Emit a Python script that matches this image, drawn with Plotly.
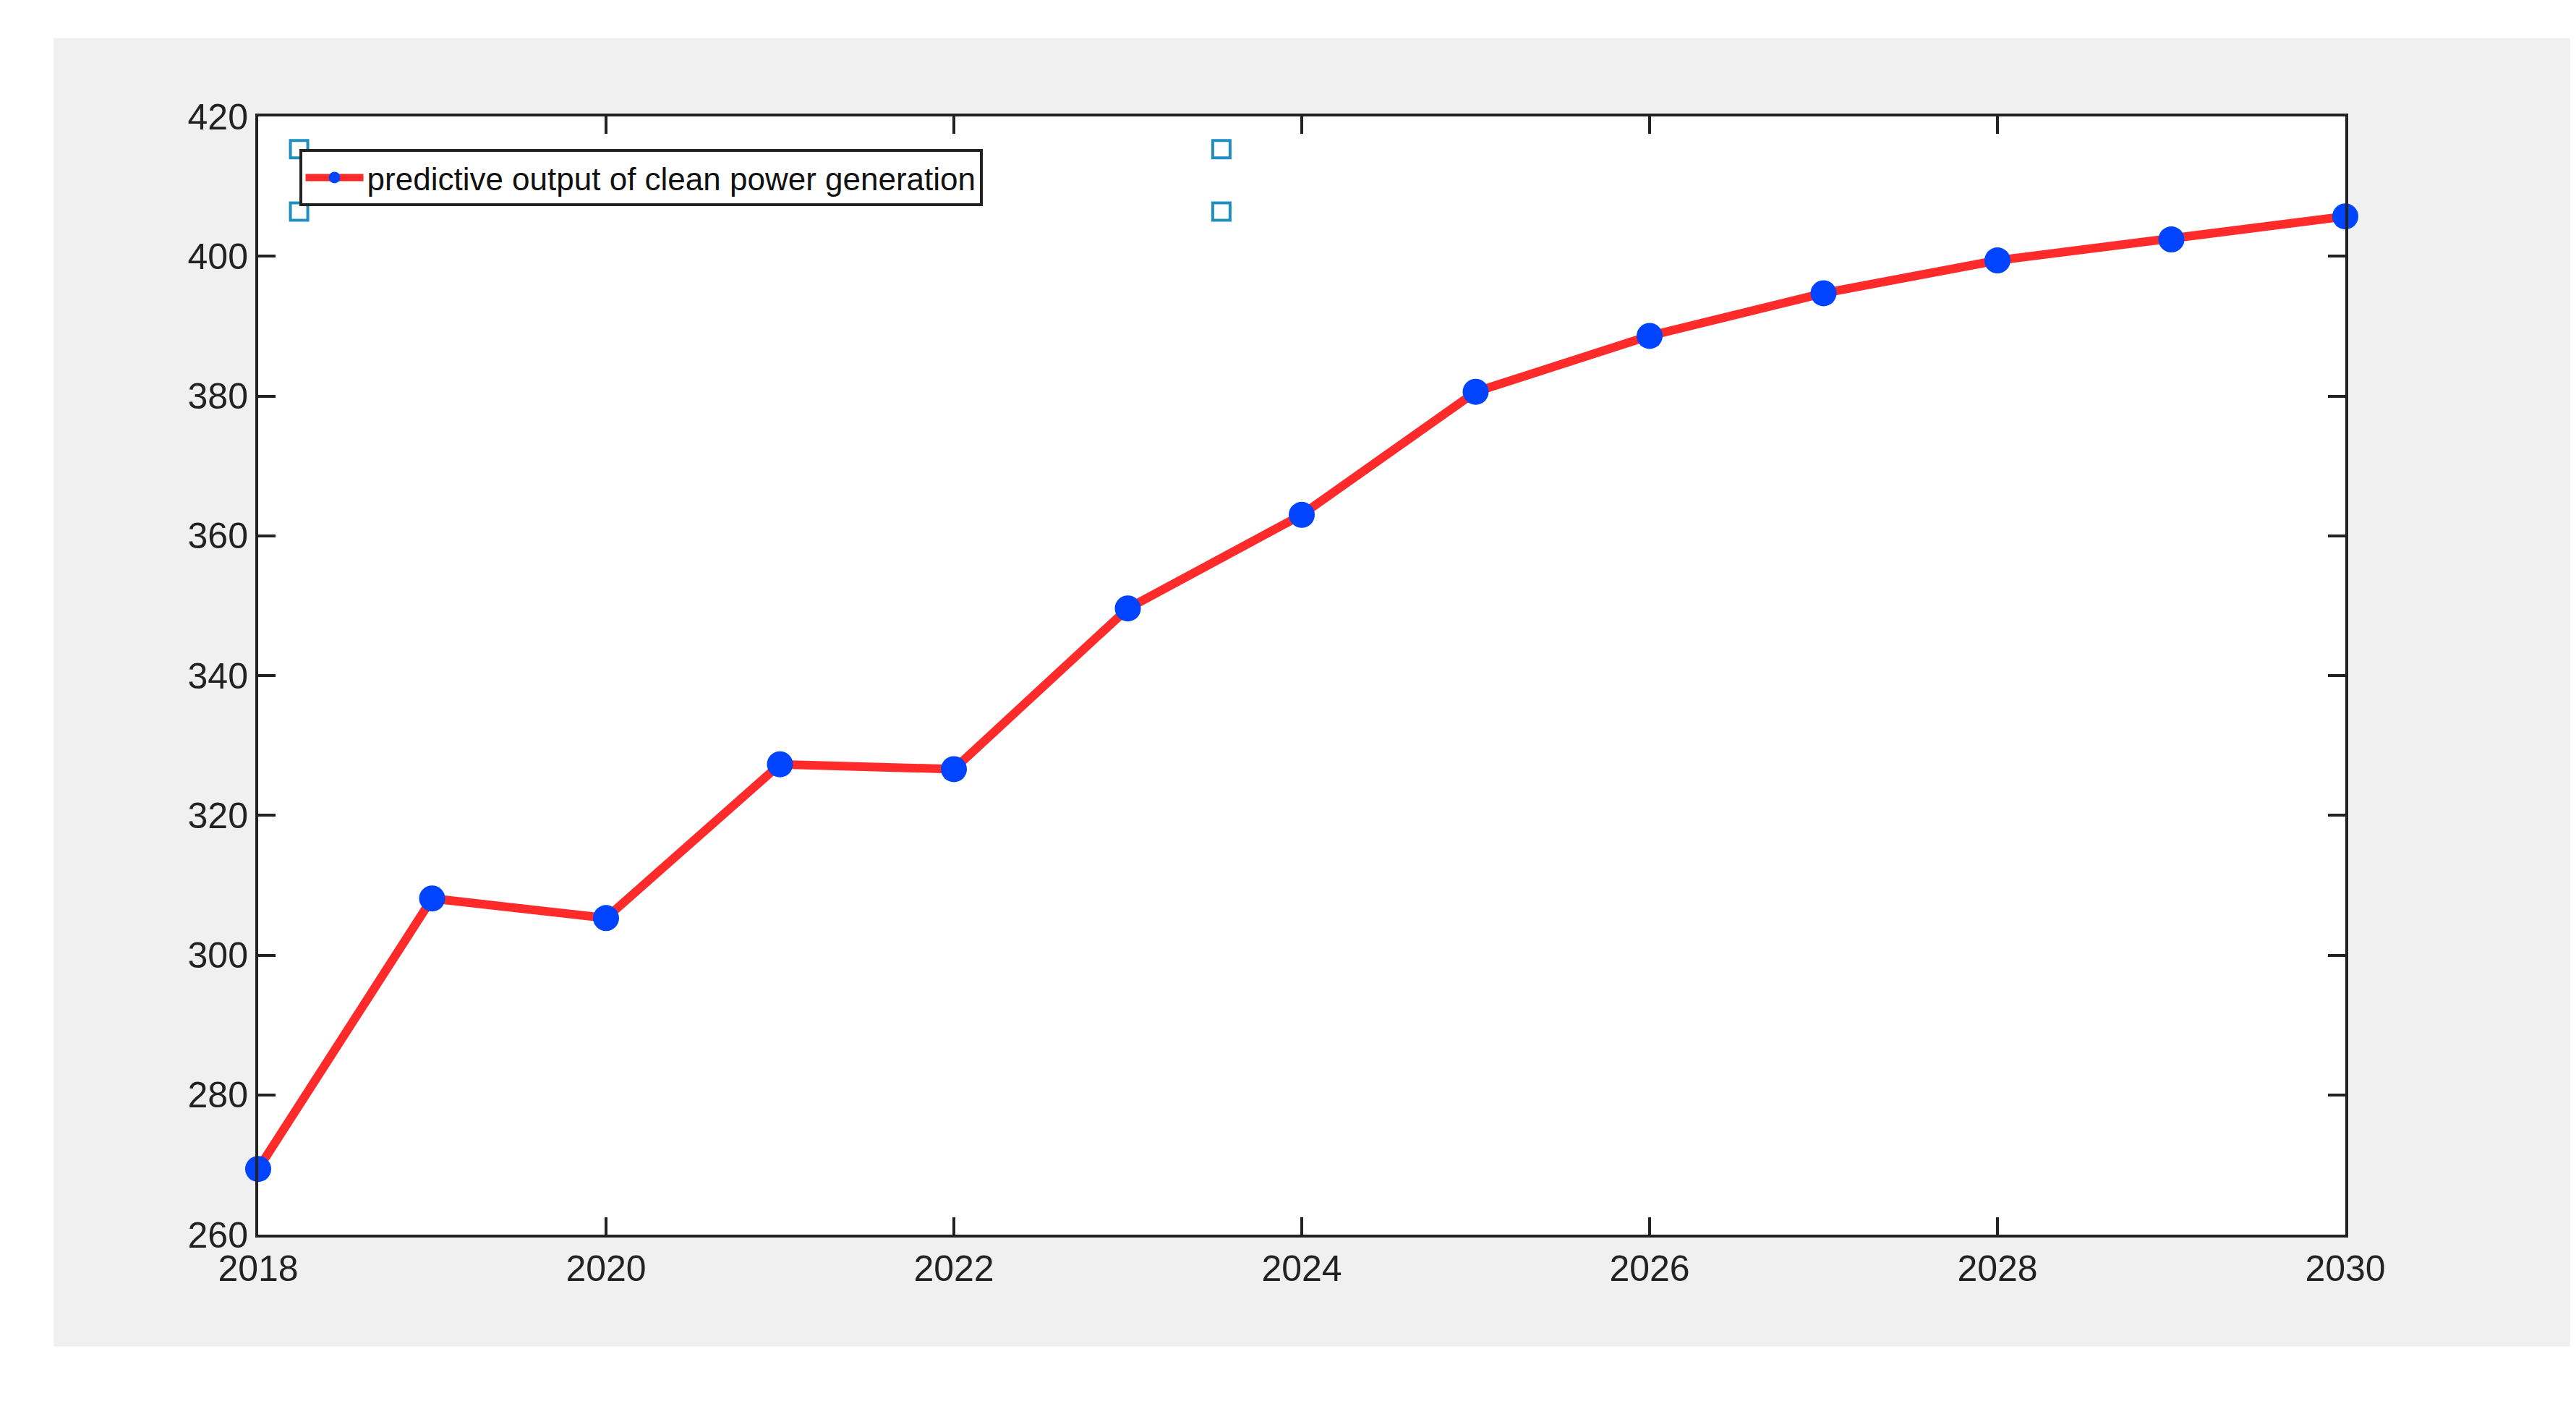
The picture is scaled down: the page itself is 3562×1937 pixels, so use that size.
import plotly.graph_objects as go

years = [2018, 2019, 2020, 2021, 2022, 2023, 2024, 2025, 2026, 2027, 2028, 2029, 2030]
output = [269.4, 308.1, 305.3, 327.3, 326.6, 349.6, 363.0, 380.6, 388.6, 394.7, 399.4, 402.4, 405.7]
series_name = "predictive output of clean power generation"
xticks = [2018, 2020, 2022, 2024, 2026, 2028, 2030]
yticks = [260, 280, 300, 320, 340, 360, 380, 400, 420]

fig = go.Figure()
fig.add_trace(go.Scatter(
    x=years, y=output, mode="lines+markers", name=series_name,
    line=dict(color="#ff2a2a", width=12),
    marker=dict(color="#0044ff", size=36, symbol="circle"),
    cliponaxis=False,
))

shapes = [
    dict(type="rect", xref="paper", yref="paper", x0=-0.098, x1=1.11, y0=-0.10, y1=1.07,
         fillcolor="#f0f0f0", line=dict(width=0), layer="below"),
    dict(type="rect", xref="paper", yref="paper", x0=0, x1=1, y0=0, y1=1,
         fillcolor="white", line=dict(width=0), layer="below"),
]
for hx in (0.0196, 0.4615):
    for hy in (0.9707, 0.915):
        shapes.append(dict(type="rect", xref="paper", yref="paper", xsizemode="pixel", ysizemode="pixel",
                           xanchor=hx, yanchor=hy, x0=-12, x1=12, y0=-12, y1=12,
                           fillcolor="white", line=dict(color="#1f8fc0", width=4), layer="above"))

axis_common = dict(showgrid=False, zeroline=False, showline=True, linecolor="#222", linewidth=4,
                   mirror="ticks", ticks="inside", ticklen=24, tickwidth=4, tickcolor="#222",
                   tickfont=dict(family="Liberation Sans, Arial", size=50, color="#222"))

fig.update_layout(
    width=3562, height=1937,
    paper_bgcolor="white", plot_bgcolor="white",
    margin=dict(l=349, r=327, t=153, b=238),
    xaxis=dict(range=[2018, 2030], tickvals=xticks, **axis_common),
    yaxis=dict(range=[260, 420], tickvals=yticks, **axis_common),
    legend=dict(x=0.0196, y=0.9707, xanchor="left", yanchor="top",
                bgcolor="white", bordercolor="#222", borderwidth=4,
                itemwidth=80,
                font=dict(family="Liberation Sans, Arial", size=44, color="#111")),
    showlegend=True,
    shapes=shapes,
)
fig.write_html("out.html")
